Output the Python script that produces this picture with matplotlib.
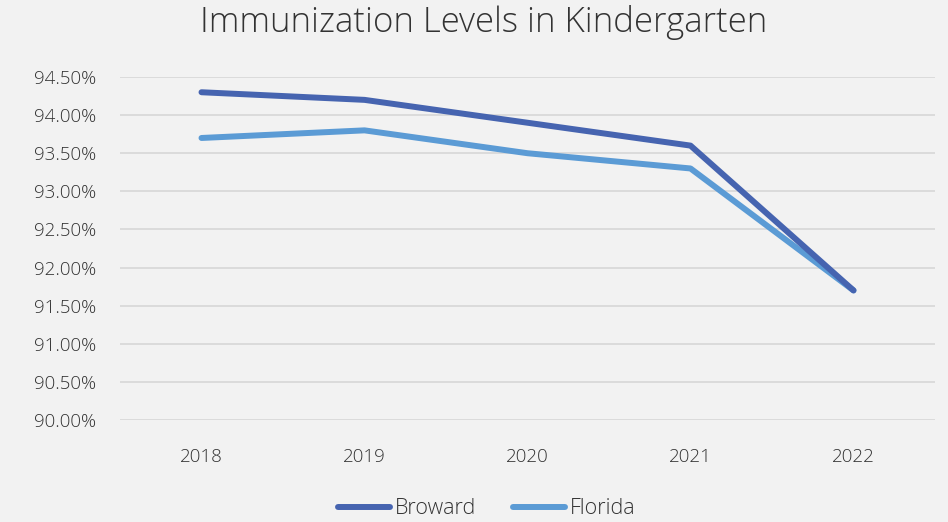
import matplotlib
matplotlib.use("Agg")
import matplotlib.pyplot as plt
from matplotlib.ticker import FuncFormatter, MultipleLocator

years = ["2018", "2019", "2020", "2021", "2022"]
broward = [94.30, 94.20, 93.90, 93.60, 91.70]
florida = [93.70, 93.80, 93.50, 93.30, 91.70]

plt.rcParams['font.family'] = ['Open Sans', 'DejaVu Sans']

bg = "#F2F2F2"
tc = "#333333"
fig = plt.figure(figsize=(9.48, 5.22), dpi=100, facecolor=bg)
ax = fig.add_axes([120/948, 1-420/522, 815/948, 343/522], facecolor=bg)

x = list(range(len(years)))
ax.plot(x, broward, color="#4664B0", lw=4.3, solid_capstyle="round", solid_joinstyle="round", label="Broward", zorder=3)
ax.plot(x, florida, color="#5B9BD5", lw=4.3, solid_capstyle="round", solid_joinstyle="round", label="Florida", zorder=2)

ax.set_xlim(-0.5, 4.5)
ax.set_ylim(90.0, 94.5)
ax.yaxis.set_major_locator(MultipleLocator(0.5))
ax.yaxis.set_major_formatter(FuncFormatter(lambda v, p: f"{v:.2f}%"))
ax.set_xticks(x)
ax.set_xticklabels(years)
ax.grid(axis='y', color="#D9D9D9", lw=1.3, zorder=0)
for s in ax.spines.values():
    s.set_visible(False)
ax.tick_params(length=0, labelsize=13.5, colors=tc)
ax.tick_params(axis='y', pad=17)
ax.tick_params(axis='x', pad=20)
for lab in ax.get_xticklabels() + ax.get_yticklabels():
    lab.set_fontweight('light')

fig.text(484/948, 1-22/522, "Immunization Levels in Kindergarten", ha='center', va='center',
         fontsize=25, color=tc, fontweight='light')

leg = fig.legend(loc='center', bbox_to_anchor=(487/948, 1-509/522), ncol=2, frameon=False,
                 fontsize=15.5, handlelength=2.4, columnspacing=1.7, handletextpad=0.25,
                 labelcolor=tc)
for t in leg.get_texts():
    t.set_fontweight('light')

fig.savefig("out.png", dpi=100, facecolor=bg)
